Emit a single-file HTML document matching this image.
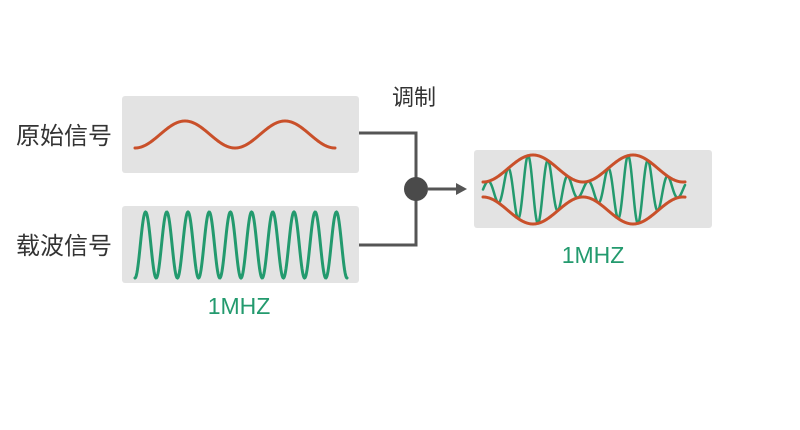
<!DOCTYPE html>
<html><head><meta charset="utf-8"><style>
html,body{margin:0;padding:0;background:#fff;width:800px;height:430px;overflow:hidden}
svg{display:block}
text{font-family:"Liberation Sans","Noto Sans CJK SC",sans-serif}
</style></head><body>
<svg id="s" width="800" height="430" viewBox="0 0 800 430">
<rect x="122" y="96" width="237" height="77" rx="3" fill="#e3e3e3"/>
<rect x="122" y="206" width="237" height="77" rx="3" fill="#e3e3e3"/>
<rect x="474" y="150" width="238" height="78" rx="3" fill="#e3e3e3"/>
<text x="16" y="144" font-size="24" fill="#333">原始信号</text>
<text x="16" y="254" font-size="24" fill="#333">载波信号</text>
<text x="392" y="105" font-size="22" fill="#333">调制</text>
<text x="239" y="314" font-size="23" fill="#239a6e" text-anchor="middle">1MHZ</text>
<text x="593" y="263" font-size="23" fill="#239a6e" text-anchor="middle">1MHZ</text>
<polyline points="359,133 416,133 416,245 359,245" fill="none" stroke="#555" stroke-width="3"/>
<circle cx="416" cy="189" r="12" fill="#4a4a4a"/>
<line x1="428" y1="189" x2="458" y2="189" stroke="#555" stroke-width="3"/>
<polygon points="456,183 467,189 456,195" fill="#555"/>
<path id="o1" fill="none" stroke="#c9502a" stroke-width="3" stroke-linecap="round"/>
<path id="g1" fill="none" stroke="#239a6e" stroke-width="3" stroke-linecap="round"/>
<path id="g2" fill="none" stroke="#239a6e" stroke-width="2.5" stroke-linecap="round"/>
<path id="e1" fill="none" stroke="#c9502a" stroke-width="3" stroke-linecap="round"/>
<path id="e2" fill="none" stroke="#c9502a" stroke-width="3" stroke-linecap="round"/>
</svg>
<script>
function P(x0,x1,f){var d="";for(var x=x0;x<=x1+0.001;x+=0.5){d+=(d?"L":"M")+x.toFixed(1)+","+f(x).toFixed(2);}return d;}
var T=2*Math.PI;
document.getElementById("o1").setAttribute("d",P(135,335,function(x){return 134.5+13.5*Math.cos(T*(x-135)/100);}));
document.getElementById("g1").setAttribute("d",P(135,347,function(x){return 245+33*Math.cos(T*(x-135)/21.2);}));
function env(x){return 21-13.5*Math.cos(T*(x-483)/100);}
document.getElementById("g2").setAttribute("d",P(483,685,function(x){return 189.5+env(x)*Math.cos(T*(x-483)/20+Math.PI/2);}));
document.getElementById("e1").setAttribute("d",P(483,685,function(x){return 189.5-env(x);}));
document.getElementById("e2").setAttribute("d",P(483,685,function(x){return 189.5+env(x);}));
</script>
</body></html>
